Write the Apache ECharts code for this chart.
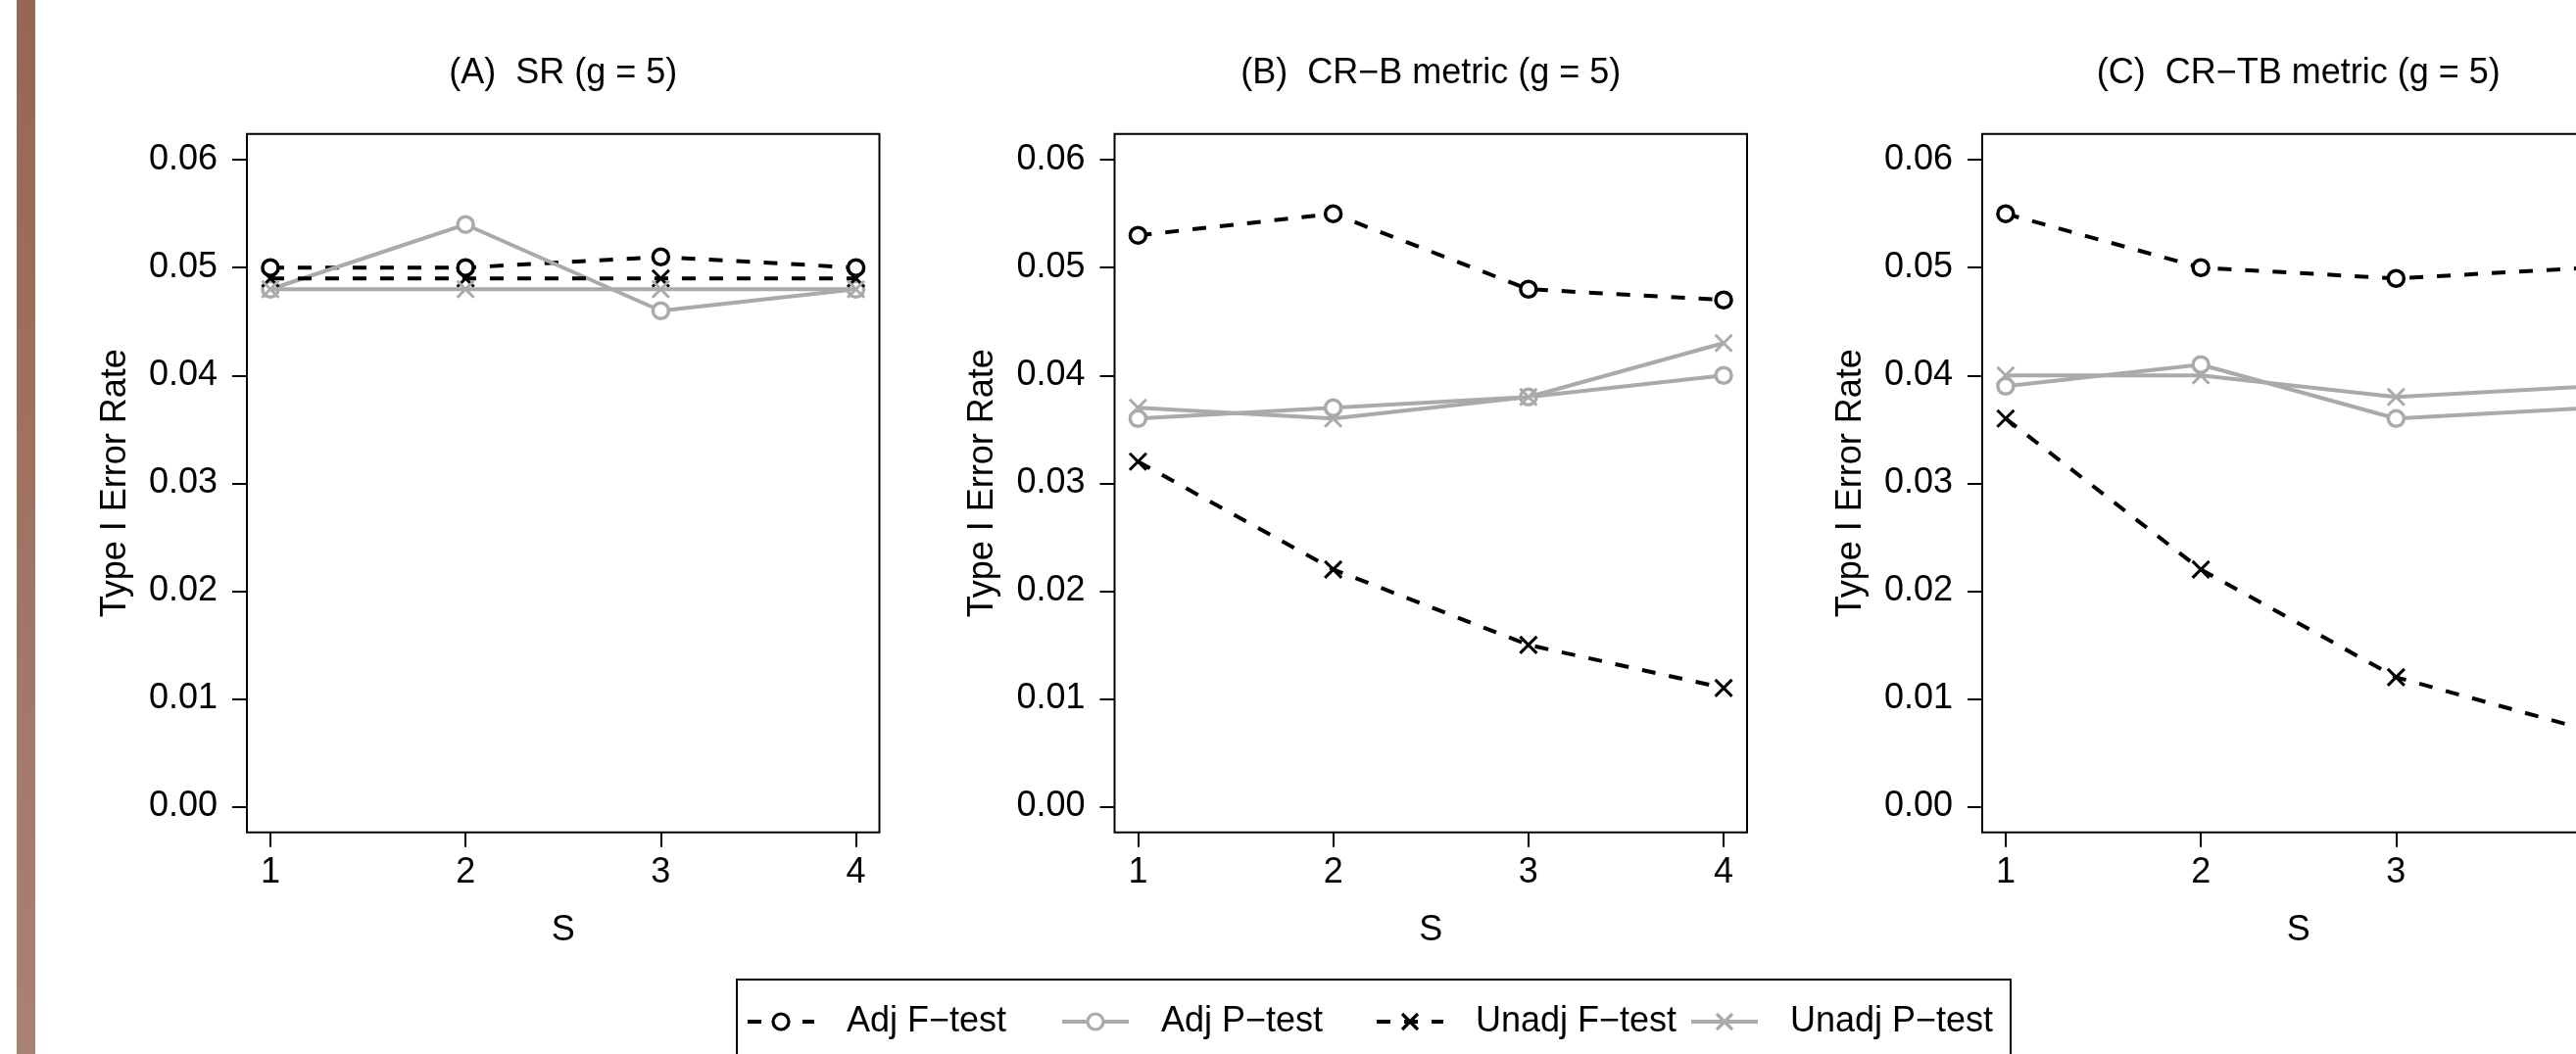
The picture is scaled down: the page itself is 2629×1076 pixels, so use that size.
<!DOCTYPE html>
<html>
<head>
<meta charset="utf-8">
<title>Type I Error Rate</title>
<script src="https://cdn.jsdelivr.net/npm/echarts@6/dist/echarts.min.js"></script>
<style>
html,body{margin:0;padding:0;background:#fff;}
#main{width:2629px;height:1076px;}
</style>
</head>
<body>
<div id="main"></div>
<script>
var sValues = [1, 2, 3, 4];
var yTicks = [0, 0.01, 0.02, 0.03, 0.04, 0.05, 0.06];
var panelTitles = ['(A)  SR (g = 5)', '(B)  CR\u2212B metric (g = 5)', '(C)  CR\u2212TB metric (g = 5)'];
var testNames = ['Adj F\u2212test', 'Adj P\u2212test', 'Unadj F\u2212test', 'Unadj P\u2212test'];

// (A) SR
var srAdjF   = [0.050, 0.050, 0.051, 0.050];
var srAdjP   = [0.048, 0.054, 0.046, 0.048];
var srUnadjF = [0.049, 0.049, 0.049, 0.049];
var srUnadjP = [0.048, 0.048, 0.048, 0.048];

// (B) CR-B metric
var crbAdjF   = [0.053, 0.055, 0.048, 0.047];
var crbAdjP   = [0.036, 0.037, 0.038, 0.040];
var crbUnadjF = [0.032, 0.022, 0.015, 0.011];
var crbUnadjP = [0.037, 0.036, 0.038, 0.043];

// (C) CR-TB metric
var crtbAdjF   = [0.055, 0.050, 0.049, 0.050];
var crtbAdjP   = [0.039, 0.041, 0.036, 0.037];
var crtbUnadjF = [0.036, 0.022, 0.012, 0.007];
var crtbUnadjP = [0.040, 0.040, 0.038, 0.039];

var panels = [
	[srAdjF, srAdjP, srUnadjF, srUnadjP],
	[crbAdjF, crbAdjP, crbUnadjF, crbUnadjP],
	[crtbAdjF, crtbAdjP, crtbUnadjF, crtbUnadjP]
];

var FONT = '"Liberation Sans", Arial, Helvetica, sans-serif';
var BLACK = '#000000';
var GRAY = '#aaaaaa';
var CROSS = 'path://M0,0L10,10M10,0L0,10';

// look of the 4 tests: colour, dashed or not, symbol
var testLook = [
	{color: BLACK, dashed: true,  cross: false},
	{color: GRAY,  dashed: false, cross: false},
	{color: BLACK, dashed: true,  cross: true},
	{color: GRAY,  dashed: false, cross: true}
];

var gridLeft = [252, 1137.5, 2023];
var gridWidth = 645.5;
var gridTop = 136.8;
var gridHeight = 713;

// legend frame and item starts
var legendBox = {x: 752, y: 1000, w: 1300};
var legendStep = 321;
var legendFirst = 761;

function toPairs(vals){
	var out = [];
	for(var i = 0; i < sValues.length; i++){
		out.push([sValues[i], vals[i]]);
	}
	return out;
}

function makeSeries(p, t){
	var look = testLook[t];
	var s = {
		type: 'line',
		name: testNames[t],
		xAxisIndex: p,
		yAxisIndex: p,
		data: toPairs(panels[p][t]),
		lineStyle: {color: look.color, width: 4, type: look.dashed ? [14, 14] : 'solid'},
		emphasis: {disabled: true},
		z: 2 + t
	};
	if(look.cross){
		s.symbol = CROSS;
		s.symbolSize = 17;
		s.itemStyle = {color: look.color, borderColor: look.color, borderWidth: 3};
	}else{
		s.symbol = 'circle';
		s.symbolSize = 16;
		s.itemStyle = {color: '#ffffff', borderColor: look.color, borderWidth: 3.5};
	}
	return s;
}

var grids = [], xAxes = [], yAxes = [], titles = [], series = [], legends = [];
for(var p = 0; p < 3; p++){
	grids.push({
		left: gridLeft[p], top: gridTop, width: gridWidth, height: gridHeight,
		show: true, borderColor: BLACK, borderWidth: 2, backgroundColor: 'transparent',
		containLabel: false, outerBoundsMode: 'none'
	});
	titles.push({
		text: panelTitles[p],
		left: gridLeft[p] + gridWidth / 2,
		top: 57,
		padding: 0,
		textAlign: 'center',
		textStyle: {fontFamily: FONT, fontSize: 36, fontWeight: 'normal', color: BLACK}
	});
	xAxes.push({
		type: 'value', gridIndex: p, min: 0.88, max: 4.12,
		name: 'S', nameLocation: 'middle', nameGap: 82,
		nameTextStyle: {fontFamily: FONT, fontSize: 36, color: BLACK},
		axisLine: {show: false, onZero: false},
		splitLine: {show: false},
		axisTick: {show: true, customValues: sValues, length: 15, lineStyle: {color: BLACK, width: 2}},
		axisLabel: {customValues: sValues, margin: 23, fontFamily: FONT, fontSize: 36, color: BLACK,
			formatter: function(v){ return String(v); }}
	});
	yAxes.push({
		type: 'value', gridIndex: p, min: -0.0024, max: 0.0624,
		name: 'Type I Error Rate', nameLocation: 'middle', nameGap: 116, nameRotate: 90,
		nameTextStyle: {fontFamily: FONT, fontSize: 36, color: BLACK},
		axisLine: {show: false, onZero: false},
		splitLine: {show: false},
		axisTick: {show: true, customValues: yTicks, length: 15, lineStyle: {color: BLACK, width: 2}},
		axisLabel: {customValues: yTicks, margin: 30, fontFamily: FONT, fontSize: 36, color: BLACK,
			formatter: function(v){ return v.toFixed(2); }}
	});
	for(var t = 0; t < 4; t++){
		series.push(makeSeries(p, t));
	}
}

// one legend per test so the columns sit at fixed steps, like R's legend
for(var k = 0; k < testNames.length; k++){
	legends.push({
		left: legendFirst + legendStep * k, top: 1025,
		orient: 'horizontal',
		padding: 0,
		itemWidth: 68, itemHeight: 20, itemGap: 0,
		selectedMode: false,
		data: [testNames[k]],
		lineStyle: {width: 4},
		itemStyle: {borderWidth: 3.2},
		formatter: '{sp|}{t|{name}}',
		textStyle: {
			fontFamily: FONT, fontSize: 36, color: BLACK,
			rich: {
				sp: {width: 28, fontSize: 36},
				t: {fontFamily: FONT, fontSize: 36, color: BLACK}
			}
		}
	});
}

var myChart = echarts.init(document.getElementById('main'), null, {renderer: 'canvas'});
var option = {
	backgroundColor: '#ffffff',
	animation: false,
	title: titles,
	grid: grids,
	xAxis: xAxes,
	yAxis: yAxes,
	legend: legends,
	graphic: [{
		// brownish strip on the left edge of the picture
		type: 'rect',
		shape: {x: 17, y: 0, width: 19, height: 1076},
		style: {
			fill: new echarts.graphic.LinearGradient(0, 0, 0, 1, [
				{offset: 0, color: '#966555'},
				{offset: 1, color: '#aa8272'}
			])
		},
		silent: true
	}, {
		// legend frame (its bottom is cut off by the picture edge)
		type: 'rect',
		shape: {x: legendBox.x, y: legendBox.y, width: legendBox.w, height: 120},
		style: {fill: 'none', stroke: BLACK, lineWidth: 2},
		silent: true
	}],
	series: series
};
myChart.setOption(option);
</script>
</body>
</html>
